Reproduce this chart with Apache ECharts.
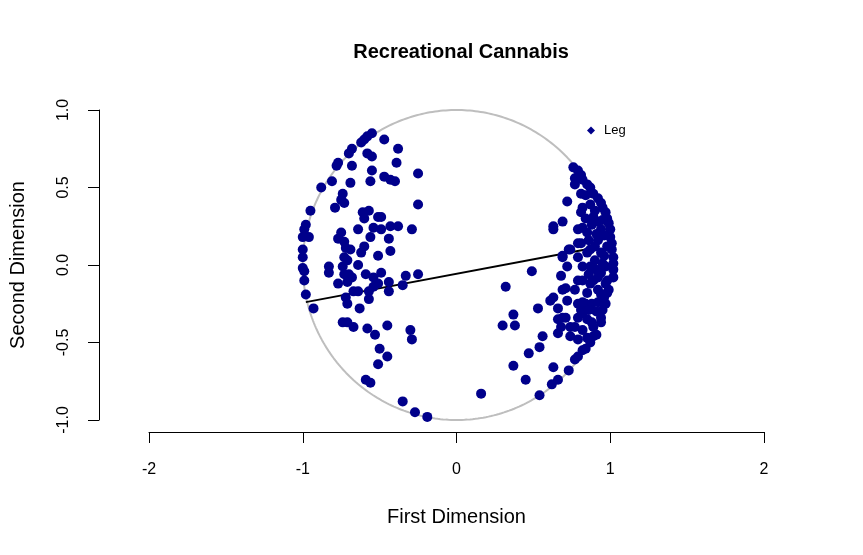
<!DOCTYPE html>
<html>
<head>
<meta charset="utf-8">
<title>Recreational Cannabis</title>
<script src="https://cdn.jsdelivr.net/npm/echarts@6/dist/echarts.min.js"></script>
<style>
  html, body { margin: 0; padding: 0; background: #fff; }
  #main { width: 863px; height: 555px; }
</style>
</head>
<body>
<div id="main"></div>
<script>
// 左边那一团点 [第一维, 第二维]
let leftPoints = [
  [-0.55,0.85],[-0.58,0.83],[-0.60,0.81],[-0.62,0.79],[-0.47,0.81],[-0.38,0.75],[-0.68,0.75],[-0.70,0.72],
  [-0.58,0.72],[-0.55,0.70],[-0.77,0.66],[-0.78,0.64],[-0.68,0.64],[-0.39,0.66],[-0.55,0.61],[-0.25,0.59],
  [-0.47,0.57],[-0.43,0.55],[-0.40,0.54],[-0.81,0.54],[-0.69,0.53],[-0.56,0.54],[-0.88,0.50],[-0.74,0.46],
  [-0.75,0.42],[-0.73,0.40],[-0.79,0.37],[-0.25,0.39],[-0.95,0.35],[-0.61,0.34],[-0.57,0.35],[-0.60,0.30],
  [-0.51,0.31],[-0.49,0.31],[-0.98,0.26],[-0.99,0.23],[-0.64,0.23],[-0.54,0.24],[-0.49,0.23],[-0.43,0.25],
  [-0.38,0.25],[-0.29,0.23],[-1.00,0.18],[-0.96,0.18],[-0.75,0.21],[-0.77,0.17],[-0.73,0.15],[-0.56,0.18],
  [-0.44,0.17],[-1.00,0.10],[-0.72,0.11],[-0.69,0.10],[-0.60,0.12],[-0.62,0.08],[-0.51,0.06],[-0.43,0.09],
  [-1.00,0.05],[-0.73,0.05],[-0.71,0.03],[-0.64,0.00],[-1.00,-0.02],[-0.83,-0.01],[-0.74,-0.01],[-0.83,-0.05],
  [-0.73,-0.06],[-0.59,-0.06],[-0.49,-0.05],[-0.33,-0.07],[-0.25,-0.06],[-0.99,-0.04],[-0.99,-0.10],[-0.98,-0.19],
  [-0.70,-0.06],[-0.68,-0.08],[-0.77,-0.12],[-0.71,-0.11],[-0.54,-0.08],[-0.51,-0.12],[-0.54,-0.14],[-0.57,-0.17],
  [-0.44,-0.11],[-0.44,-0.17],[-0.35,-0.13],[-0.64,-0.17],[-0.67,-0.17],[-0.72,-0.21],[-0.71,-0.25],[-0.57,-0.22],
  [-0.93,-0.28],[-0.63,-0.28],[-0.74,-0.37],[-0.71,-0.37],[-0.67,-0.40],[-0.58,-0.41],[-0.53,-0.45],[-0.45,-0.39],
  [-0.30,-0.42],[-0.29,-0.48],[-0.50,-0.54],[-0.45,-0.59],[-0.51,-0.64],[-0.59,-0.74],[-0.56,-0.76],[-0.35,-0.88],
  [-0.27,-0.95],[-0.19,-0.98],[0.16,-0.83]
]
// 右边那一团点
let rightPoints = [
  [0.76,0.63],[0.79,0.61],[0.81,0.58],[0.82,0.55],[0.85,0.52],[0.87,0.50],[0.89,0.46],[0.92,0.43],
  [0.94,0.40],[0.95,0.37],[0.97,0.34],[0.98,0.30],[0.99,0.27],[1.00,0.23],[1.00,0.18],[1.01,0.14],
  [1.01,0.10],[1.02,0.05],[1.02,0.01],[1.02,-0.03],[1.02,-0.08],[0.77,0.52],[0.72,0.41],[0.81,0.46],
  [0.82,0.37],[0.81,0.34],[0.69,0.28],[0.63,0.25],[0.82,0.24],[0.85,0.21],[0.79,0.23],[0.89,0.31],
  [0.92,0.28],[0.81,0.14],[0.74,0.10],[0.69,0.05],[0.72,-0.01],[0.68,-0.07],[0.49,-0.04],[0.87,0.10],
  [0.94,0.08],[0.97,-0.01],[0.87,-0.01],[0.32,-0.14],[0.71,-0.15],[0.63,-0.21],[0.61,-0.23],[0.72,-0.23],
  [0.79,-0.25],[0.84,-0.25],[0.88,-0.25],[0.81,-0.29],[0.53,-0.28],[0.37,-0.32],[0.30,-0.39],[0.38,-0.39],
  [0.66,-0.35],[0.69,-0.34],[0.68,-0.40],[0.66,-0.44],[0.74,-0.46],[0.56,-0.46],[0.54,-0.53],[0.47,-0.57],
  [0.37,-0.65],[0.45,-0.74],[0.63,-0.66],[0.73,-0.68],[0.77,-0.61],[0.79,-0.59],[0.84,-0.54],[0.66,-0.74],
  [0.62,-0.77],[0.54,-0.84],[0.98,-0.10],[0.99,-0.16],[0.98,-0.18],[0.95,-0.29],[0.94,-0.37],[0.89,-0.46],
  [0.87,-0.50],[0.82,-0.10],[0.89,-0.10],[0.94,-0.05],[0.85,-0.18],[0.92,-0.16],[0.79,-0.34],[0.85,-0.35],
  [0.89,-0.40],[0.82,-0.42],[0.63,0.23],[0.69,0.06],[0.73,0.10],[0.69,-0.16],[0.66,-0.28],[0.71,-0.34],
  [0.74,-0.40],[0.82,-0.24],[0.92,-0.24],[0.79,-0.10],[0.82,-0.01],[0.85,0.08],[0.90,0.03],[0.95,0.01],
  [0.97,-0.25],[0.94,-0.34],[0.88,-0.37],[0.82,-0.31],[0.79,0.14],[0.92,0.16],[0.98,0.12],[0.87,-0.12],
  [0.92,-0.08],[0.79,0.05],[0.84,0.45],[0.87,0.39],[0.90,0.35],[0.84,0.30],[0.94,0.23],[0.95,0.29],
  [0.77,0.56],[0.77,-0.16],[0.94,-0.19],[0.77,-0.40],[0.97,-0.12],[0.79,-0.48],[0.82,-0.55],
  [0.91,0.20],[0.96,0.19],[0.88,0.26],[0.86,0.16],[0.90,0.12],[0.96,0.06],[0.91,-0.03],[0.86,-0.06],
  [0.96,-0.21],[0.91,-0.30],[0.86,-0.29],[0.91,-0.45],[0.85,-0.47]
]
// 切割线的两个端点
let cutLine = [[-0.98,-0.24],[0.84,0.10]]
// 刻度
let xTicks = [-2, -1, 0, 1, 2]
let yTicks = [-1.0, -0.5, 0.0, 0.5, 1.0]

// 单位圆
let circlePts = []
for(let i = 0; i <= 360; i++){
    let a = i * Math.PI / 180
    circlePts.push([Math.cos(a), Math.sin(a)])
}

let font = 'Liberation Sans, Arial, sans-serif'
let myChart = echarts.init(document.getElementById('main'))
let option = {
    animation: false,
    backgroundColor: '#fff',
    title: {
        text: 'Recreational Cannabis',
        left: 456,
        top: 37,
        textAlign: 'center',
        textStyle: { fontFamily: font, fontSize: 20, fontWeight: 'bold', color: '#000' }
    },
    legend: {
        data: ['Leg'],
        left: 582,
        top: 119,
        icon: 'diamond',
        itemWidth: 8,
        itemHeight: 8,
        textStyle: { fontFamily: font, fontSize: 13, color: '#000', padding: [0, 0, 0, 4] }
    },
    grid: { left: 148, right: 99, top: 110, bottom: 135 },
    xAxis: {
        type: 'value',
        min: xTicks[0],
        max: xTicks[xTicks.length - 1],
        interval: 1,
        offset: 12,
        name: 'First Dimension',
        nameLocation: 'middle',
        nameGap: 75,
        nameTextStyle: { fontFamily: font, fontSize: 20, color: '#000' },
        axisLine: { show: true, onZero: false, lineStyle: { color: '#000', width: 1 } },
        axisTick: { show: true, length: 11, lineStyle: { color: '#000' } },
        axisLabel: { fontFamily: font, fontSize: 16, color: '#000', margin: 30 },
        splitLine: { show: false }
    },
    yAxis: {
        type: 'value',
        min: yTicks[0],
        max: yTicks[yTicks.length - 1],
        interval: 0.5,
        offset: 50,
        name: 'Second Dimension',
        nameLocation: 'middle',
        nameGap: 71,
        nameTextStyle: { fontFamily: font, fontSize: 20, color: '#000' },
        axisLine: { show: true, onZero: false, lineStyle: { color: '#000', width: 1 } },
        axisTick: { show: true, length: 11, lineStyle: { color: '#000' } },
        axisLabel: {
            fontFamily: font, fontSize: 16, color: '#000', margin: 27, rotate: 90,
            formatter: v => v.toFixed(1)
        },
        splitLine: { show: false }
    },
    series: [
        {
            name: 'circle',
            type: 'line',
            data: circlePts,
            showSymbol: false,
            silent: true,
            clip: false,
            z: 1,
            lineStyle: { color: '#bebebe', width: 2 }
        },
        {
            name: 'cut',
            type: 'line',
            data: cutLine,
            showSymbol: false,
            silent: true,
            z: 2,
            lineStyle: { color: '#000', width: 1.8 }
        },
        {
            name: 'Leg',
            type: 'scatter',
            data: leftPoints.concat(rightPoints),
            symbol: 'circle',
            symbolSize: 10,
            clip: false,
            z: 3,
            itemStyle: { color: '#00008B', opacity: 1 }
        }
    ]
};
myChart.setOption(option);
</script>
</body>
</html>
